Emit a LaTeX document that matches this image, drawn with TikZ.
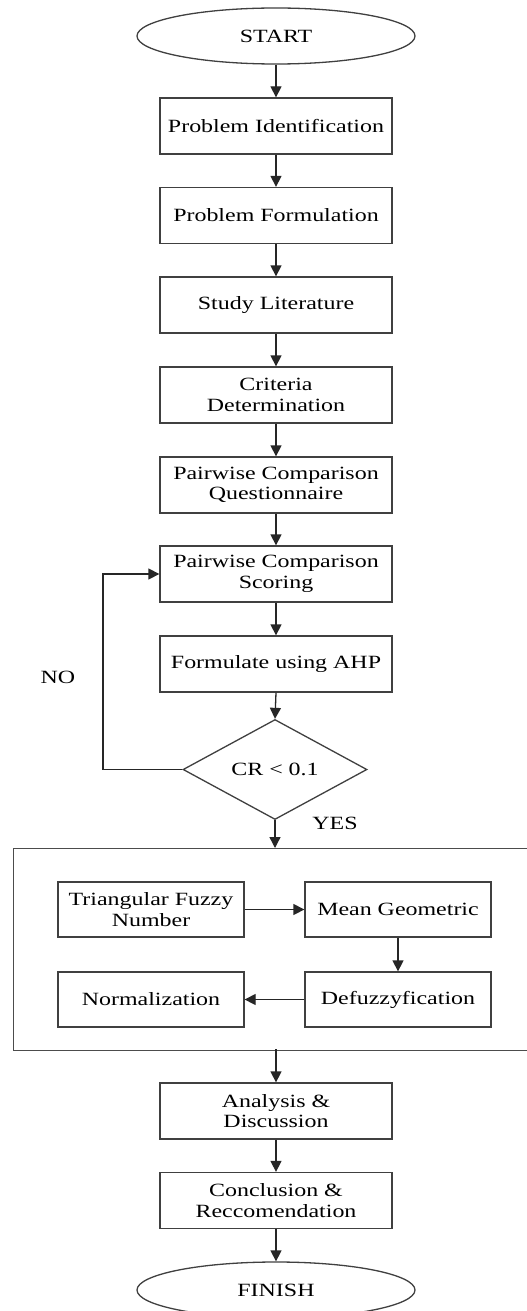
\documentclass[tikz,border=0pt]{standalone}
\usepackage{fontspec}
\setmainfont{Liberation Serif}[FakeStretch=1.28]
\usetikzlibrary{shapes.geometric,arrows.meta}
\begin{document}
\begin{tikzpicture}[x=1pt,y=-1pt,
  every node/.style={font=\fontsize{18.7}{20.5}\selectfont},
  box/.style={draw=black!75,line width=1.3pt,minimum width=232pt,minimum height=56pt,inner sep=2pt,align=center},
  sbox/.style={draw=black!75,line width=1.3pt,minimum width=186pt,minimum height=55pt,inner sep=2pt,align=center},
  term/.style={draw=black!75,line width=1.3pt,ellipse,minimum width=278pt,minimum height=56pt,inner sep=0pt},
  decision/.style={draw=black!75,line width=1.3pt,diamond,minimum width=184pt,minimum height=89pt,inner sep=0pt},
  flow/.style={draw=black!85,line width=1.3pt,-{Triangle[length=11pt,width=11pt]}},
  lbl/.style={inner sep=0pt}
]
\useasboundingbox (0,0) rectangle (527,1311);
\clip (0,0) rectangle (527,1311);
\fill[white] (0,0) rectangle (527,1311);

\node[term] (start) at (276,36) {START};
\node[box] (p1) at (276,126) {Problem Identification};
\node[box] (p2) at (276,215.5) {Problem Formulation};
\node[box] (p3) at (276,305) {Study Literature};
\node[box] (p4) at (276,395) {Criteria\\Determination};
\node[box] (p5) at (276,485) {Pairwise Comparison\\Questionnaire};
\node[box] (p6) at (276,574) {Pairwise Comparison\\Scoring};
\node[box] (p7) at (276,664) {Formulate using AHP};
\node[decision] (cr) at (275,769.5) {CR < 0.1};

\node[draw=black!70,line width=1.3pt,minimum width=530pt,minimum height=202pt,inner sep=0pt,anchor=north west] (grp) at (13,848) {};
\coordinate (gtop) at (275,848);
\coordinate (gbot) at (276,1049);

\node[sbox] (tfn) at (151,909.5) {Triangular Fuzzy\\Number};
\node[sbox] (mg) at (398,909.5) {Mean Geometric};
\node[sbox] (def) at (398,999.5) {Defuzzyfication};
\node[sbox] (nor) at (151,999.5) {Normalization};

\node[box] (an) at (276,1111) {Analysis \&\\Discussion};
\node[box] (cc) at (276,1200.5) {Conclusion \&\\Reccomendation};
\node[term] (fin) at (276,1290) {FINISH};

\node[lbl] (no) at (58,677) {NO};
\node[lbl] (yes) at (335,823) {YES};

\draw[flow] (start) -- (p1);
\draw[flow] (p1) -- (p2);
\draw[flow] (p2) -- (p3);
\draw[flow] (p3) -- (p4);
\draw[flow] (p4) -- (p5);
\draw[flow] (p5) -- (p6);
\draw[flow] (p6) -- (p7);
\draw[flow] (p7.south) -- (cr.north);
\draw[flow] (cr.west) -- (103,769.5) |- (p6.west);
\draw[flow] (cr.south) -- (gtop);
\draw[flow] (tfn) -- (mg);
\draw[flow] (mg) -- (def);
\draw[flow] (def) -- (nor);
\draw[flow] (gbot) -- (an.north);
\draw[flow] (an) -- (cc);
\draw[flow] (cc) -- (fin);
\end{tikzpicture}
\end{document}
